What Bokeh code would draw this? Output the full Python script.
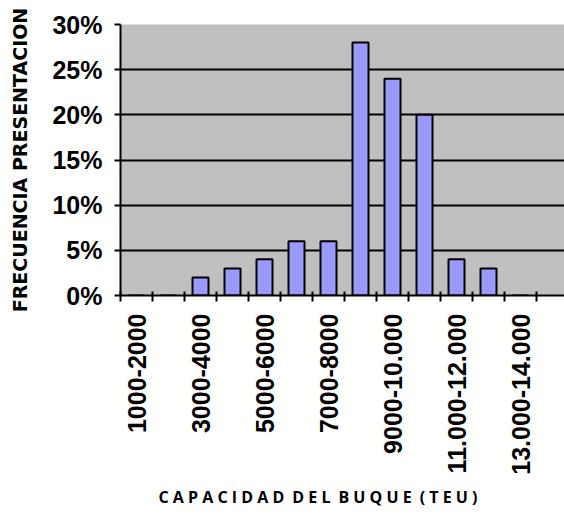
from bokeh.plotting import figure
from bokeh.models import Range1d, FixedTicker, NumeralTickFormatter, Title
from bokeh.embed import file_html
from bokeh.resources import INLINE

categories = ["1000-2000", "2000-3000", "3000-4000", "4000-5000", "5000-6000",
              "6000-7000", "7000-8000", "8000-9000", "9000-10.000",
              "10.000-11.000", "11.000-12.000", "12.000-13.000", "13.000-14.000"]
frecuencia = [0.00, 0.00, 0.02, 0.03, 0.04, 0.06, 0.06, 0.28, 0.24, 0.20, 0.04, 0.03, 0.00]
y_ticks = [0.0, 0.05, 0.10, 0.15, 0.20, 0.25, 0.30]

n = len(categories)
centers = [i + 0.5 for i in range(n)]

p = figure(width=564, height=514, output_backend="svg", toolbar_location=None,
           x_range=Range1d(0, 13.875), y_range=Range1d(0, 0.30),
           min_border_left=120, min_border_top=24, min_border_right=0,
           min_border_bottom=218)

p.background_fill_color = "#C0C0C0"
p.border_fill_color = "white"
p.outline_line_color = None

p.vbar(x=centers, top=frecuencia, width=0.5, fill_color="#9999FF",
       line_color="black", line_width=2)

# x axis
shown = {c: lab for k, (c, lab) in enumerate(zip(centers, categories)) if k % 2 == 0}
p.xaxis.ticker = FixedTicker(ticks=list(shown.keys()),
                             minor_ticks=list(range(n + 1)))
p.xaxis.major_label_overrides = shown
p.xaxis.major_label_orientation = 3.14159265 / 2
p.xaxis.major_tick_in = 0
p.xaxis.major_tick_out = 0
p.xaxis.minor_tick_in = 4
p.xaxis.minor_tick_out = 6
p.xaxis.minor_tick_line_color = "black"
p.xaxis.minor_tick_line_width = 2
p.xaxis.axis_line_color = "black"
p.xaxis.axis_line_width = 2
p.xaxis.major_label_standoff = 12
p.xaxis.major_label_text_font = "Liberation Sans"
p.xaxis.major_label_text_font_style = "bold"
p.xaxis.major_label_text_font_size = "25px"
p.xaxis.major_label_text_color = "black"
p.xgrid.grid_line_color = None

# y axis
p.yaxis.ticker = FixedTicker(ticks=y_ticks, minor_ticks=[])
p.yaxis.formatter = NumeralTickFormatter(format="0%")
p.yaxis.major_tick_in = 0
p.yaxis.major_tick_out = 6
p.yaxis.major_tick_line_width = 2
p.yaxis.axis_line_color = "black"
p.yaxis.axis_line_width = 2
p.yaxis.major_label_standoff = 12
p.yaxis.major_label_text_font = "Liberation Sans"
p.yaxis.major_label_text_font_style = "bold"
p.yaxis.major_label_text_font_size = "25px"
p.yaxis.major_label_text_color = "black"
p.yaxis.axis_label = "FRECUENCIA PRESENTACION"
p.yaxis.axis_label_text_font = "DejaVu Sans"
p.yaxis.axis_label_text_font_style = "bold"
p.yaxis.axis_label_text_font_size = "19px"
p.yaxis.axis_label_text_color = "black"
p.yaxis.axis_label_standoff = 18
p.ygrid.grid_line_color = "black"
p.ygrid.grid_line_width = 2
p.ygrid.ticker = FixedTicker(ticks=y_ticks)

title_text = "C A P A C I D A D\u2002D E L\u2002B U Q U E\u2002( T E U )"
p.add_layout(Title(text=title_text, align="left", offset=38, standoff=13,
                   text_font="Open Sans", text_font_style="bold",
                   text_font_size="16px", text_color="black"), "below")

open("out.html", "w").write(file_html(p, INLINE))
